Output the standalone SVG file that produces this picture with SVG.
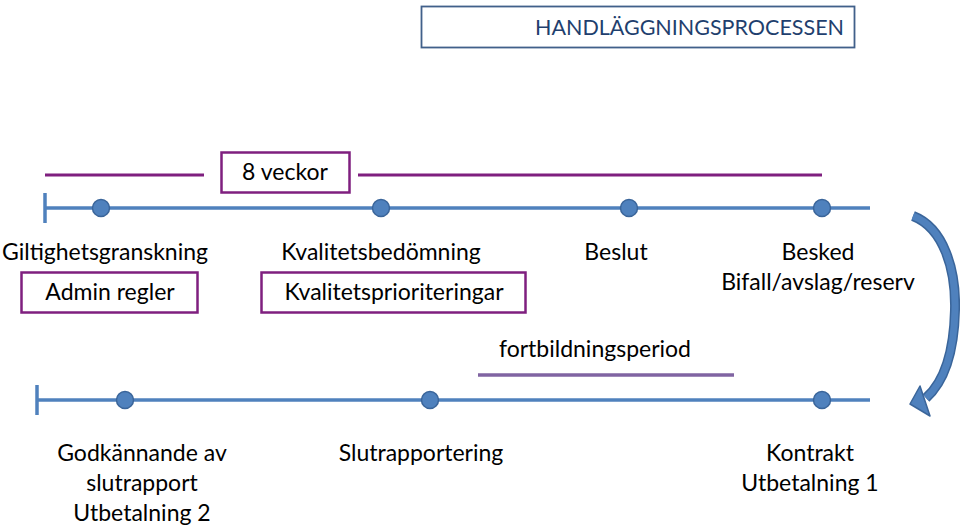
<svg xmlns="http://www.w3.org/2000/svg" width="960" height="529" viewBox="0 0 960 529">
<style>
text{font-family:Lato,"Liberation Sans",sans-serif;font-size:23px;fill:#000;text-anchor:middle}
.tl{stroke:#4F81BD;stroke-width:3.5;fill:none}
.dot{fill:#4F81BD;stroke:#3A659A;stroke-width:1.5}
.pbox{fill:#fff;stroke:#7F1F7F;stroke-width:2.5}
.pl{stroke:#7F1F7F;stroke-width:3;fill:none}
</style>
<defs>
<path id="shaft" d="M913,216 C944,228 956,270 955,310 C954,352 944,382 926,398" fill="none"/>
</defs>
<rect width="960" height="529" fill="#fff"/>
<g id="title">
<rect x="421.5" y="6.5" width="433" height="41" fill="#fff" stroke="#41608A" stroke-width="1.8"/>
<text x="689.5" y="35" style="fill:#1F3F6E;font-size:21.5px">HANDLÄGGNINGSPROCESSEN</text>
</g>
<g id="connectors">
<line class="pl" x1="45" y1="175" x2="204" y2="175"/>
<line class="pl" x1="358" y1="175" x2="822" y2="175"/>
<line class="tl" x1="45" y1="208" x2="870" y2="208"/>
<line class="tl" x1="45" y1="193" x2="45" y2="223"/>
<line class="tl" x1="37" y1="400" x2="870" y2="400"/>
<line class="tl" x1="37" y1="385" x2="37" y2="415"/>
<line x1="478" y1="375" x2="734" y2="375" stroke="#8064A2" stroke-width="3.5"/>
<use href="#shaft" stroke="#3A659A" stroke-width="10"/>
<polygon points="910,404 920,386 930,416" fill="#4F81BD" stroke="#3A659A" stroke-width="1.5" stroke-linejoin="round"/>
<use href="#shaft" stroke="#4F81BD" stroke-width="7"/>
</g>
<g id="veckor">
<rect class="pbox" x="221.5" y="152.5" width="128" height="40"/>
<text x="285" y="180">8 veckor</text>
</g>
<g id="giltighet">
<circle class="dot" cx="101" cy="208" r="8.5"/>
<text x="105" y="260">Giltighetsgranskning</text>
<rect class="pbox" x="21.5" y="272.5" width="176" height="40"/>
<text x="110" y="300">Admin regler</text>
</g>
<g id="kvalitet">
<circle class="dot" cx="381" cy="208" r="8.5"/>
<text x="381" y="260">Kvalitetsbedömning</text>
<rect class="pbox" x="261.5" y="272.5" width="264" height="40"/>
<text x="394" y="300">Kvalitetsprioriteringar</text>
</g>
<g id="beslut">
<circle class="dot" cx="629" cy="208" r="8.5"/>
<text x="616" y="260">Beslut</text>
</g>
<g id="besked">
<circle class="dot" cx="822" cy="208" r="8.5"/>
<text x="818" y="260">Besked</text>
<text x="818" y="290">Bifall/avslag/reserv</text>
</g>
<g id="fortbildning">
<text x="595" y="357">fortbildningsperiod</text>
</g>
<g id="godkannande">
<circle class="dot" cx="125" cy="400" r="8.5"/>
<text x="142" y="461">Godkännande av</text>
<text x="142" y="491">slutrapport</text>
<text x="142" y="521">Utbetalning 2</text>
</g>
<g id="slutrapportering">
<circle class="dot" cx="430" cy="400" r="8.5"/>
<text x="421" y="461">Slutrapportering</text>
</g>
<g id="kontrakt">
<circle class="dot" cx="822" cy="400" r="8.5"/>
<text x="810" y="461">Kontrakt</text>
<text x="810" y="491">Utbetalning 1</text>
</g>
</svg>
